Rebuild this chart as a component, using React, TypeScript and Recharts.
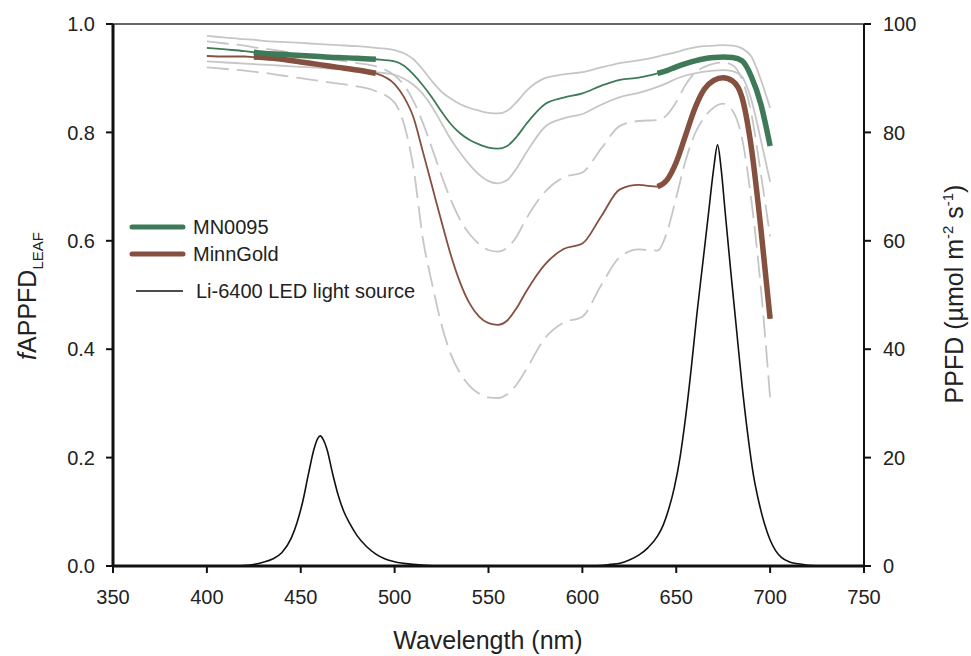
import React from "react";
import { LineChart, Line, XAxis, YAxis, ReferenceLine } from "recharts";

// wavelength grid (nm) for the leaf absorptance curves
const NM = [
  400, 410, 420, 425, 430, 440, 450, 460, 470, 480, 490, 500, 505, 510, 515, 520, 525, 530, 535, 540, 545,
  550, 555, 560, 565, 570, 580, 590, 600, 610, 620, 630, 640, 645, 650, 655, 660, 665, 670, 675, 680, 685,
  690, 695, 700,
];

const MN0095 = [
  0.956, 0.953, 0.95, 0.948, 0.946, 0.944, 0.942, 0.94, 0.938, 0.937, 0.935, 0.931, 0.923, 0.907, 0.887,
  0.864, 0.838, 0.815, 0.798, 0.786, 0.778, 0.772, 0.77, 0.775, 0.792, 0.815, 0.852, 0.864, 0.872, 0.886,
  0.897, 0.901, 0.909, 0.914, 0.921, 0.927, 0.932, 0.936, 0.938, 0.939, 0.938, 0.932, 0.903, 0.853, 0.775,
];
const MN0095_HI = [
  0.978, 0.975, 0.972, 0.971, 0.969, 0.967, 0.965, 0.963, 0.961, 0.959, 0.956, 0.952, 0.946, 0.935, 0.916,
  0.894, 0.875, 0.862, 0.852, 0.845, 0.84, 0.836, 0.835, 0.84, 0.856, 0.876, 0.9, 0.907, 0.911, 0.92,
  0.928, 0.933, 0.94, 0.944, 0.948, 0.953, 0.957, 0.959, 0.96, 0.961, 0.96, 0.955, 0.94, 0.898, 0.845,
];
const MN0095_LO = [
  0.931, 0.929, 0.927, 0.926, 0.925, 0.923, 0.921, 0.919, 0.917, 0.914, 0.911, 0.906, 0.899, 0.888, 0.871,
  0.847, 0.817, 0.787, 0.762, 0.74, 0.722, 0.71, 0.706, 0.712, 0.734, 0.762, 0.81, 0.826, 0.834, 0.851,
  0.865, 0.873, 0.884, 0.891, 0.899, 0.905, 0.909, 0.912, 0.914, 0.915, 0.913, 0.903, 0.86, 0.787, 0.709,
];

const MINNGOLD = [
  0.941, 0.94, 0.94, 0.939, 0.938, 0.935, 0.93, 0.925, 0.92, 0.915, 0.909, 0.889, 0.865, 0.828, 0.765,
  0.7, 0.635, 0.573, 0.522, 0.484, 0.46, 0.448, 0.445, 0.453, 0.476, 0.506, 0.556, 0.585, 0.595, 0.645,
  0.695, 0.703, 0.7, 0.712, 0.745, 0.795, 0.845, 0.88, 0.896, 0.901, 0.895, 0.865, 0.772, 0.625, 0.456,
];
const MINNGOLD_HI = [
  0.968, 0.964, 0.96, 0.957, 0.955, 0.95, 0.944, 0.938, 0.933, 0.928, 0.922, 0.905, 0.887, 0.858, 0.818,
  0.77, 0.72, 0.675, 0.638, 0.612, 0.594, 0.583, 0.58, 0.587, 0.608, 0.64, 0.69, 0.717, 0.726, 0.77,
  0.812, 0.821, 0.823, 0.832, 0.856, 0.888, 0.91, 0.921, 0.927, 0.929, 0.924, 0.898, 0.835, 0.725, 0.608,
];
const MINNGOLD_LO = [
  0.92, 0.917, 0.914, 0.912, 0.91, 0.905, 0.9, 0.895, 0.89, 0.885, 0.876, 0.855, 0.815, 0.735, 0.605,
  0.52, 0.445, 0.39, 0.355, 0.332, 0.318, 0.311, 0.31, 0.317, 0.335, 0.362, 0.42, 0.449, 0.46, 0.518,
  0.57, 0.584, 0.582, 0.615, 0.68, 0.748, 0.798, 0.828, 0.846, 0.853, 0.84, 0.79, 0.675, 0.515, 0.31,
];

// wavelength bands where the two lines differ (drawn thick)
const SIG_RANGES = [
  [425, 490],
  [640, 700],
];

// Li-6400 LED source spectrum (right axis)
const LED_NM = [
  410, 420, 430, 435, 440, 445, 448, 451, 454, 457, 459, 460.5, 462, 464, 467, 470, 473, 476, 480, 485,
  490, 495, 500, 510, 520, 560, 600, 610, 615, 620, 625, 630, 635, 640, 643, 646, 649, 652, 655, 658,
  661, 664, 667, 670, 672, 674, 676, 679, 682, 685, 688, 691, 694, 697, 700, 703, 706, 710, 715, 720, 730,
];
const LED_PPFD = [
  0, 0.1, 0.7, 1.3, 2.5, 5.2, 8.0, 11.8, 16.8, 21.5, 23.5, 24.0, 23.3, 21.5, 17.0, 13.0, 10.0, 7.9, 5.6, 3.6,
  2.2, 1.3, 0.8, 0.3, 0.05, 0, 0, 0.1, 0.3, 0.5, 1.1, 2.0, 3.4, 5.5, 7.5, 10.5, 14.5, 20.0, 27.5, 36.5,
  46.5, 55.5, 64.5, 73.5, 77.7, 73.0, 65.5, 54.5, 44.0, 33.5, 24.5, 17.0, 11.8, 7.8, 4.8, 2.8, 1.6, 0.8, 0.4, 0.15, 0,
];

const X_TICKS = [350, 400, 450, 500, 550, 600, 650, 700, 750];
const LEFT_TICKS = [0, 0.2, 0.4, 0.6, 0.8, 1.0];
const RIGHT_TICKS = [0, 20, 40, 60, 80, 100];

const GREEN = "#3f7a58";
const BROWN = "#855040";
const GRAY = "#c6c6c6";
const FONT = "'Liberation Sans', Arial, sans-serif";

const inSig = (nm: number) => SIG_RANGES.some(([a, b]) => nm >= a && nm <= b);

const mnRows = NM.map((nm, i) => ({
  nm,
  mean: MN0095[i],
  hi: MN0095_HI[i],
  lo: MN0095_LO[i],
  sig: inSig(nm) ? MN0095[i] : null,
}));
const mgRows = NM.map((nm, i) => ({
  nm,
  mean: MINNGOLD[i],
  hi: MINNGOLD_HI[i],
  lo: MINNGOLD_LO[i],
  sig: inSig(nm) ? MINNGOLD[i] : null,
}));
const ledRows = LED_NM.map((nm, i) => ({ nm, ppfd: LED_PPFD[i] }));

const tickStyle = { fill: "#222", fontSize: 20, fontFamily: FONT };

export default function App() {
  return (
    <div style={{ position: "absolute", left: 0, top: 0, width: 971, height: 656, background: "#fff" }}>
      <LineChart width={971} height={656} margin={{ top: 24, right: 0, bottom: 0, left: 0 }}>
        <XAxis
          type="number"
          dataKey="nm"
          domain={[350, 750]}
          ticks={X_TICKS}
          allowDataOverflow
          height={90}
          tickSize={7}
          tickMargin={17}
          axisLine={{ stroke: "#111", strokeWidth: 3 }}
          tickLine={{ stroke: "#111", strokeWidth: 2 }}
          tick={tickStyle}
        />
        <YAxis
          yAxisId="left"
          domain={[0, 1]}
          ticks={LEFT_TICKS}
          width={113}
          tickSize={7}
          tickMargin={11}
          tickFormatter={(v: number) => v.toFixed(1)}
          axisLine={{ stroke: "#111", strokeWidth: 3 }}
          tickLine={{ stroke: "#111", strokeWidth: 2 }}
          tick={tickStyle}
        />
        <YAxis
          yAxisId="right"
          orientation="right"
          domain={[0, 100]}
          ticks={RIGHT_TICKS}
          width={107}
          tickSize={7}
          tickMargin={12}
          axisLine={{ stroke: "#111", strokeWidth: 2 }}
          tickLine={{ stroke: "#111", strokeWidth: 2 }}
          tick={tickStyle}
        />
        <ReferenceLine yAxisId="left" y={1} stroke="#333" strokeWidth={1.5} />

        {/* variability bands */}
        <Line data={mnRows} dataKey="hi" yAxisId="left" type="monotone" stroke={GRAY} strokeWidth={1.8} dot={false} isAnimationActive={false} />
        <Line data={mnRows} dataKey="lo" yAxisId="left" type="monotone" stroke={GRAY} strokeWidth={1.8} dot={false} isAnimationActive={false} />
        <Line data={mgRows} dataKey="hi" yAxisId="left" type="monotone" stroke={GRAY} strokeWidth={1.8} strokeDasharray="22 8" dot={false} isAnimationActive={false} />
        <Line data={mgRows} dataKey="lo" yAxisId="left" type="monotone" stroke={GRAY} strokeWidth={1.8} strokeDasharray="22 8" dot={false} isAnimationActive={false} />

        {/* means */}
        <Line data={mgRows} dataKey="mean" yAxisId="left" type="monotone" stroke={BROWN} strokeWidth={1.8} dot={false} isAnimationActive={false} />
        <Line data={mgRows} dataKey="sig" yAxisId="left" type="monotone" stroke={BROWN} strokeWidth={5.5} dot={false} connectNulls={false} isAnimationActive={false} />
        <Line data={mnRows} dataKey="mean" yAxisId="left" type="monotone" stroke={GREEN} strokeWidth={1.8} dot={false} isAnimationActive={false} />
        <Line data={mnRows} dataKey="sig" yAxisId="left" type="monotone" stroke={GREEN} strokeWidth={5.5} dot={false} connectNulls={false} isAnimationActive={false} />

        {/* LED source */}
        <Line data={ledRows} dataKey="ppfd" yAxisId="right" type="monotone" stroke="#111" strokeWidth={1.6} dot={false} isAnimationActive={false} />
      </LineChart>

      <svg
        width={971}
        height={656}
        style={{ position: "absolute", left: 0, top: 0, pointerEvents: "none" }}
        fontFamily={FONT}
        fill="#222"
      >
        {/* legend */}
        <line x1={132} x2={183} y1={227} y2={227} stroke={GREEN} strokeWidth={5} strokeLinecap="round" />
        <text x={193} y={234} fontSize={20}>MN0095</text>
        <line x1={132} x2={183} y1={254} y2={254} stroke={BROWN} strokeWidth={5} strokeLinecap="round" />
        <text x={193} y={261} fontSize={20}>MinnGold</text>
        <line x1={136} x2={183} y1={291} y2={291} stroke="#111" strokeWidth={1.5} />
        <text x={196} y={298} fontSize={20}>Li-6400 LED light source</text>

        {/* axis titles */}
        <text x={488} y={649} fontSize={25} textAnchor="middle">Wavelength (nm)</text>
        <text x={36} y={296} fontSize={25} textAnchor="middle" transform="rotate(-90, 36, 296)">
          <tspan fontStyle="italic">f</tspan>
          <tspan>APPFD</tspan>
          <tspan fontSize={15} dy={7}>LEAF</tspan>
        </text>
        <text x={963} y={294} fontSize={25} textAnchor="middle" transform="rotate(-90, 963, 294)">
          <tspan>PPFD (µmol m</tspan>
          <tspan fontSize={15} dy={-10}>-2</tspan>
          <tspan dy={10}> s</tspan>
          <tspan fontSize={15} dy={-10}>-1</tspan>
          <tspan dy={10}>)</tspan>
        </text>
      </svg>
    </div>
  );
}
